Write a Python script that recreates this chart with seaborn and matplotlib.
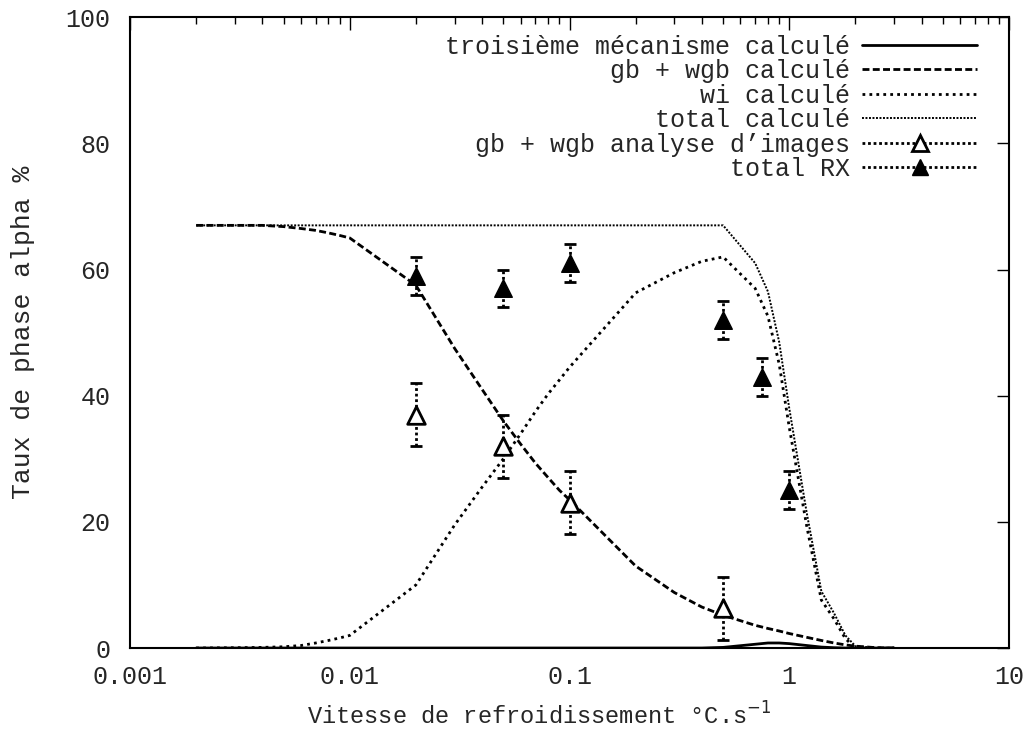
import numpy as np
import pandas as pd
import matplotlib
matplotlib.use("Agg")
import matplotlib.pyplot as plt
from matplotlib.lines import Line2D
from matplotlib.ticker import FixedLocator, FuncFormatter, LogLocator, NullFormatter
import seaborn as sns

# données calculées (vitesse de refroidissement en °C/s)
vitesse = [0.002, 0.003, 0.004, 0.005, 0.006, 0.007, 0.008, 0.009, 0.01,
           0.02, 0.03, 0.04, 0.05, 0.06, 0.07, 0.08, 0.09, 0.1,
           0.2, 0.3, 0.4, 0.5, 0.7, 0.8, 0.9, 1.0, 1.2, 1.4, 1.6, 1.8, 2.0, 2.5, 3.0]

troisieme = [0, 0, 0, 0, 0, 0, 0, 0, 0,
             0, 0, 0, 0, 0, 0, 0, 0, 0,
             0, 0, 0, 0.1, 0.6, 0.8, 0.8, 0.7, 0.4, 0.15, 0.05, 0, 0, 0, 0]
gb_wgb = [67, 67, 67, 66.8, 66.5, 66.2, 65.8, 65.4, 65,
          57.5, 47.5, 41, 36, 32.3, 29.3, 27, 25, 23.5,
          13, 8.8, 6.5, 5.2, 3.6, 3.1, 2.7, 2.3, 1.7, 1.2, 0.8, 0.5, 0.3, 0.05, 0]
wi = [0, 0.05, 0.1, 0.2, 0.4, 0.8, 1.2, 1.6, 2,
      10, 19.5, 25.5, 30, 34, 37.5, 40.3, 42.5, 44.5,
      56.3, 59.5, 61.3, 62, 57, 52.6, 45, 35, 19.4, 7.6, 4.6, 1.5, 0, 0, 0]
total = [67, 67, 67, 67, 67, 67, 67, 67, 67,
         67, 67, 67, 67, 67, 67, 67, 67, 67,
         67, 67, 67, 67, 61, 56.5, 48.5, 38, 21.5, 9, 5.5, 2, 0.3, 0, 0]

# mesures
vit_img = [0.02, 0.05, 0.1, 0.5]
gb_img = [37, 32, 23, 6.3]
err_img = [5, 5, 5, 5]

vit_rx = [0.02, 0.05, 0.1, 0.5, 0.75, 1.0]
total_rx = [59, 57, 61, 52, 43, 25]
err_rx = [3, 3, 3, 3, 3, 3]

sns.set_style("white")
plt.rcParams['font.family'] = ['Liberation Mono', 'DejaVu Sans Mono']
plt.rcParams['font.size'] = 18

fig = plt.figure(figsize=(10.32, 7.31), dpi=100)
ax = fig.add_axes([0.126, 0.1135, 0.8517, 0.863])

sns.lineplot(x=vitesse, y=troisieme, ax=ax, color="black", lw=2, linestyle="-")
sns.lineplot(x=vitesse, y=gb_wgb, ax=ax, color="black", lw=2, dashes=False,
             linestyle=(0, (2.5, 1.2)))
sns.lineplot(x=vitesse, y=wi, ax=ax, color="black", lw=2, linestyle=(0, (1, 1.5)))
sns.lineplot(x=vitesse, y=total, ax=ax, color="black", lw=1.4, linestyle=(0, (1, 0.8)))

# barres d'erreur pointillées
for xs, ys, es in [(vit_img, gb_img, err_img), (vit_rx, total_rx, err_rx)]:
    eb = ax.errorbar(xs, ys, yerr=es, fmt="none", ecolor="black", elinewidth=2,
                     capsize=4, capthick=2)
    eb[2][0].set_linestyle((0, (1, 1)))

sns.scatterplot(x=vit_img, y=gb_img, ax=ax, marker="^", s=160, facecolor="white",
                edgecolor="black", linewidth=2, zorder=5)
sns.scatterplot(x=vit_rx, y=total_rx, ax=ax, marker="^", s=160, color="black",
                edgecolor="black", linewidth=1, zorder=5)

ax.set_xscale("log")
ax.set_xlim(0.001, 10)
ax.set_ylim(0, 100)
ax.xaxis.set_major_locator(FixedLocator([0.001, 0.01, 0.1, 1, 10]))
ax.xaxis.set_major_formatter(FuncFormatter(lambda v, p: f"{v:g}"))
ax.xaxis.set_minor_locator(LogLocator(base=10, subs=np.arange(2, 10)))
ax.xaxis.set_minor_formatter(NullFormatter())
ax.set_yticks([0, 20, 40, 60, 80, 100])

ax.tick_params(which="both", direction="in", top=True, right=True, color="black", width=1)
ax.tick_params(which="major", length=9)
ax.tick_params(which="minor", length=5)
ax.tick_params(axis="x", which="major", pad=12)
ax.tick_params(axis="y", which="major", pad=14)
for s in ax.spines.values():
    s.set_color("black")
    s.set_linewidth(1.5)

ax.set_xlabel(r"Vitesse de refroidissement °C.s$^{-1}$", labelpad=10,
              fontsize=17, x=0.466)
ax.set_ylabel("Taux de phase alpha %", labelpad=22, fontsize=19)

handles = [
    Line2D([], [], color="black", lw=2),
    Line2D([], [], color="black", lw=2, linestyle=(0, (2.5, 1.2))),
    Line2D([], [], color="black", lw=2, linestyle=(0, (1, 1.5))),
    Line2D([], [], color="black", lw=1.4, linestyle=(0, (1, 0.8))),
    Line2D([], [], color="black", lw=2, linestyle=(0, (1, 1)), marker="^",
           markersize=11, markerfacecolor="white", markeredgewidth=2),
    Line2D([], [], color="black", lw=2, linestyle=(0, (1, 1)), marker="^",
           markersize=11, markerfacecolor="black"),
]
labels = ["troisième mécanisme calculé", "gb + wgb calculé", "wi calculé",
          "total calculé", "gb + wgb analyse d’images", "total RX"]
ax.legend(handles, labels, loc="upper right", markerfirst=False, frameon=False,
          handlelength=4.6, labelspacing=0.02, handletextpad=0.5,
          borderaxespad=0, bbox_to_anchor=(0.975, 0.988), fontsize=18)

fig.savefig("out.png", dpi=100)
